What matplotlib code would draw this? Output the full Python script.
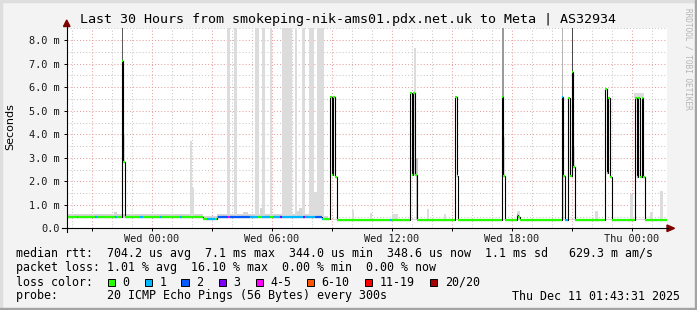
import numpy as np
import matplotlib
matplotlib.use("Agg")
import matplotlib.pyplot as plt
from matplotlib.collections import LineCollection
from matplotlib.lines import Line2D
from matplotlib.patches import Rectangle, Polygon

W, H, DPI = 697, 310, 100

# ---------------- data ----------------
T0, T1 = -4.265, 25.735          # hours relative to Wed 00:00
STEP = 5 / 60                    # 5 minute rrd step
Y_MAX = 8.52                     # ms

base_start = [-4.265, 0.9, 2.6, 3.2, 8.5, 8.9]
base_end   = [0.9, 2.6, 3.2, 8.5, 8.9, 25.735]
base_ms    = [0.48, 0.46, 0.41, 0.46, 0.39, 0.36]

spike_start = [-1.515, 8.865, 12.865, 15.115, 17.515, 18.25, 20.485, 20.815, 22.615, 24.115]
spike_ms = [
    [7.1, 2.8],
    [5.6, 2.25, 5.6, 2.2],
    [5.74, 2.27, 5.74, 2.27],
    [5.59, 2.23],
    [5.59, 2.23],
    [0.55, 0.5],
    [5.59, 2.23],
    [5.56, 2.23, 6.65, 2.61],
    [5.91, 2.34, 5.53, 2.2],
    [5.53, 2.2, 5.53, 2.2, 5.53, 2.2],
]

loss_start = [-3.75, -2.85, -1.85, -0.6, 0.4, 1.4, 2.75, 3.3, 3.8, 4.9, 5.5, 6.05, 6.4, 6.47,
              7.55, 7.62, 8.15, 8.5, 11.9, 20.485, 20.65]
loss_end   = [-3.65, -2.65, -1.78, -0.4, 0.5, 1.5, 3.15, 4.9, 3.9, 5.3, 5.9, 6.4, 6.47, 7.55,
              7.62, 8.15, 8.5, 8.6, 12.0, 20.57, 20.8]
loss_level = [1, 1, 1, 1, 1, 1, 1, 2, 4, 1, 1, 1, 3, 1, 3, 1, 2, 1, 1, 1, 1]

loss_colors = ['#26ff00', '#00b8ff', '#0059ff', '#7e00ff', '#ff00ff', '#ff5500', '#ff0000', '#a10000']
loss_labels = ['0', '1', '2', '3', '4-5', '6-10', '11-19', '20/20']

# smoke columns: start h, end h, low ms, high ms, shade
smoke_h0 = [3.75, 4.1, 5.15, 5.5, 5.9, 6.5, 7.15, 7.5, 7.85, 8.1, 8.25,
            -1.515, -1.43, 1.9, 2.0, 13.1, 13.2, 17.515, 17.55, 20.485, 20.485,
            20.98, 21.05, 24.115,
            -1.9, -2.35, 4.55, 5.4, 7.25, 7.35,
            10.0, 10.9, 12.0, 13.75, 14.6, 18.25, 22.15, 23.9, 24.9, 25.4]
smoke_h1 = [3.9, 4.25, 5.35, 5.65, 5.99, 6.99, 7.25, 7.65, 8.1, 8.25, 8.6,
            -1.43, -1.37, 2.0, 2.1, 13.2, 13.28, 17.585, 17.65, 20.568, 20.6,
            21.065, 21.15, 24.6,
            -1.75, -2.2, 4.8, 5.55, 7.35, 7.5,
            10.1, 11.0, 12.3, 13.85, 14.7, 18.4, 22.3, 24.05, 25.05, 25.55]
smoke_lo = [0.45, 0.45, 0.45, 0.45, 0.45, 0.45, 0.45, 0.45, 0.45, 0.45, 0.45,
            7.1, 2.8, 0.45, 0.45, 2.27, 0.36, 5.59, 2.23, 5.59, 0.36,
            6.65, 2.61, 5.53,
            0.45, 0.45, 0.45, 0.45, 0.45, 0.45,
            0.36, 0.36, 0.36, 0.36, 0.36, 0.36, 0.36, 0.36, 0.36, 0.36]
smoke_hi = [9, 9, 9, 9, 9, 9, 9, 9, 9, 1.56, 9,
            9, 4.0, 3.7, 1.7, 7.65, 3.0, 9, 3.9, 9, 3.96,
            9, 3.47, 5.74,
            0.7, 0.62, 0.7, 0.86, 0.74, 0.88,
            0.78, 0.65, 0.6, 0.8, 0.62, 0.74, 0.72, 1.45, 0.68, 1.6]
smoke_shade = ['#dcdcdc'] * 11 + ['#5a5a5a', '#dcdcdc', '#dcdcdc', '#dcdcdc', '#dcdcdc', '#c4c4c4',
                                  '#9a9a9a', '#dcdcdc', '#b4b4b4', '#dcdcdc', '#4a4a4a', '#dcdcdc',
                                  '#dcdcdc'] + ['#d6d6d6'] * 6 + ['#dcdcdc'] * 10

band_start = [-4.265, 8.9]
band_end = [8.9, 25.735]
band_below = [0.04, 0.015]
band_above = [0.13, 0.03]

x_major = [-3, 0, 3, 6, 9, 12, 15, 18, 21, 24]
x_labels = ['', 'Wed 00:00', '', 'Wed 06:00', '', 'Wed 12:00', '', 'Wed 18:00', '', 'Thu 00:00']
y_major = [0, 1, 2, 3, 4, 5, 6, 7, 8]

title = "Last 30 Hours from smokeping-nik-ams01.pdx.net.uk to Meta | AS32934"
line_rtt = "median rtt:  704.2 us avg  7.1 ms max  344.0 us min  348.6 us now  1.1 ms sd   629.3 m am/s"
line_loss = "packet loss: 1.01 % avg  16.10 % max  0.00 % min  0.00 % now"
line_probe = "probe:       20 ICMP Echo Pings (56 Bytes) every 300s"
stamp = "Thu Dec 11 01:43:31 2025"

# ---------------- series ----------------
n = int(round((T1 - T0) / STEP))
edges = T0 + STEP * np.arange(n + 1)
centers = edges[:-1] + STEP / 2
base = np.zeros(n)
for s, e, v in zip(base_start, base_end, base_ms):
    base[(centers >= s) & (centers < e)] = v
median = base.copy()
for s, vals in zip(spike_start, spike_ms):
    i = int(round((s - T0) / STEP))
    median[i:i + len(vals)] = vals
loss = np.zeros(n, dtype=int)
for s, e, l in zip(loss_start, loss_end, loss_level):
    loss[(centers >= s) & (centers < e)] = l

# ---------------- figure ----------------
MONO = 'DejaVu Sans Mono'
fig = plt.figure(figsize=(W / DPI, H / DPI), dpi=DPI, facecolor='#f3f3f3')

def fx(x):
    return x / W

def fy(y):
    return 1 - y / H

# frame
fig.patches.append(Rectangle((0, fy(2)), 1, 2 / H, transform=fig.transFigure, color='#dedede', zorder=0))
fig.patches.append(Rectangle((0, 0), 2 / W, 1, transform=fig.transFigure, color='#dedede', zorder=0))
fig.patches.append(Rectangle((fx(694.5), 0), 2.5 / W, 1, transform=fig.transFigure, color='#a3a3a3', zorder=0))
fig.patches.append(Rectangle((0, 0), 1, 2.5 / H, transform=fig.transFigure, color='#a3a3a3', zorder=0))

ax_l, ax_r, ax_b, ax_t = 66.7, 666.7, 228.3, 28.0
ax = fig.add_axes([fx(ax_l), fy(ax_b), (ax_r - ax_l) / W, (ax_b - ax_t) / H])
ax.set_facecolor('white')
ax.set_xlim(T0, T1)
ax.set_ylim(0, Y_MAX)
for sp in ax.spines.values():
    sp.set_visible(False)

# grid
dot = (0, (1, 2))
for h in np.arange(-4, 26):
    if h in x_major:
        continue
    ax.axvline(h, color='#c8c8c8', lw=0.75, ls=dot, zorder=0.5)
for h in x_major:
    ax.axvline(h, color='#e6a0a0', lw=0.75, ls=dot, zorder=0.6)
for v in np.arange(0.5, 8.6, 1.0):
    ax.axhline(v, color='#c8c8c8', lw=0.75, ls=dot, zorder=0.5)
for v in y_major[1:]:
    ax.axhline(v, color='#e6a0a0', lw=0.75, ls=dot, zorder=0.6)

# smoke
for s, e, b, a in zip(band_start, band_end, band_below, band_above):
    m = (centers >= s) & (centers < e)
    ax.fill_between(edges[:-1][m], base[m] - b, base[m] + a, step='post', color='#d6d6d6', lw=0, zorder=1)
for h0, h1, lo, hi, c in zip(smoke_h0, smoke_h1, smoke_lo, smoke_hi, smoke_shade):
    ax.add_patch(Rectangle((h0, lo), h1 - h0, hi - lo, facecolor=c, edgecolor='none', zorder=1.2))

# median line
ax.stairs(median, edges, baseline=None, color='black', lw=0.8, zorder=3)
segs = [[(edges[i], median[i]), (edges[i + 1], median[i])] for i in range(n)]
ax.add_collection(LineCollection(segs, colors=[loss_colors[l] for l in loss], lw=1.6,
                                 capstyle='butt', zorder=4))

# ticks
ax.set_xticks(x_major)
ax.set_xticklabels(x_labels, fontfamily=MONO, fontsize=7.4, color='#1a1a1a')
ax.set_yticks(y_major)
ax.set_yticklabels(['0.0'] + ['%.1f m' % v for v in y_major[1:]], fontfamily=MONO, fontsize=7.4,
                   color='#1a1a1a')
ax.tick_params(axis='x', direction='out', length=2.2, width=0.7, pad=1.8, color='black')
ax.tick_params(axis='y', direction='out', length=2.4, width=0.7, pad=2.4, color='black')

# axis lines and arrows
fig.add_artist(Line2D([fx(62), fx(668)], [fy(ax_b), fy(ax_b)], color='black', lw=0.8))
fig.add_artist(Line2D([fx(ax_l), fx(ax_l)], [fy(232), fy(25)], color='black', lw=0.8))
fig.add_artist(Polygon([(fx(667), fy(225)), (fx(667), fy(231.6)), (fx(674.5), fy(228.3))],
                       closed=True, transform=fig.transFigure, color='#7f0000'))
fig.add_artist(Polygon([(fx(63.5), fy(26.5)), (fx(70), fy(26.5)), (fx(66.7), fy(20))],
                       closed=True, transform=fig.transFigure, color='#7f0000'))

# texts
fig.text(fx(348), fy(19), title, ha='center', va='center', fontsize=9.6, family=MONO, color='black')
fig.text(fx(10), fy(127), 'Seconds', rotation=90, ha='center', va='center', fontsize=8,
         family='DejaVu Sans', color='black')
fig.text(fx(688), fy(59), 'RRDTOOL / TOBI OETIKER', rotation=270, ha='center', va='center',
         fontsize=5.6, family=MONO, color='#b4b4b4')

LFS = 8.4
fig.text(fx(16), fy(254), line_rtt, ha='left', va='center', fontsize=LFS, family=MONO)
fig.text(fx(16), fy(268), line_loss, ha='left', va='center', fontsize=LFS, family=MONO)
fig.text(fx(16), fy(282), 'loss color:', ha='left', va='center', fontsize=LFS, family=MONO)
fig.text(fx(16), fy(296), line_probe, ha='left', va='center', fontsize=LFS, family=MONO)
fig.text(fx(680), fy(296), stamp, ha='right', va='center', fontsize=LFS, family=MONO)

lx = 122.5
for lab, col in zip(loss_labels, loss_colors):
    fig.patches.append(Rectangle((fx(lx - 15), fy(285.5)), 7 / W, 7 / H, transform=fig.transFigure,
                                 facecolor=col, edgecolor='black', lw=0.7))
    fig.text(fx(lx), fy(282), lab, ha='left', va='center', fontsize=LFS, family=MONO)
    lx += 37 + 7.03 * (len(lab) - 1)

fig.savefig('out.png', dpi=DPI, facecolor=fig.get_facecolor())
